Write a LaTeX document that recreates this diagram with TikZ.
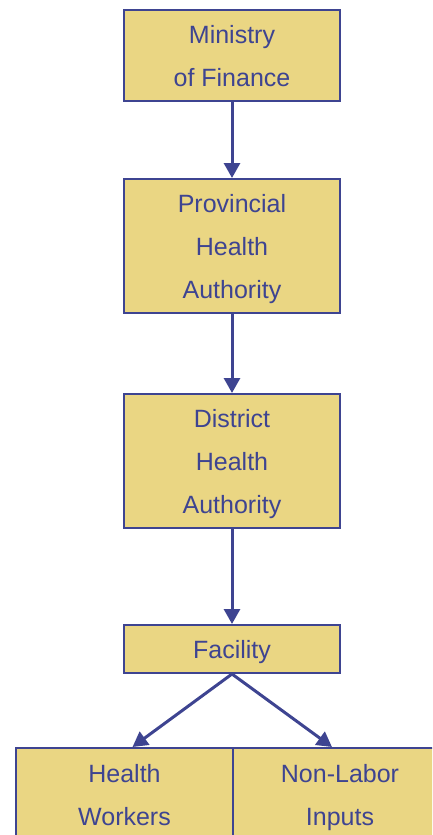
\documentclass[tikz,border=0pt]{standalone}
\usepackage{fontspec}
\setmainfont{Liberation Sans}
\usetikzlibrary{arrows.meta}
\definecolor{boxfill}{HTML}{EAD683}
\definecolor{navy}{HTML}{3E4491}
\newcommand\topS{\rule{0pt}{26pt}}
\newcommand\botS{\rule[-8pt]{0pt}{8pt}}
\begin{document}
\begin{tikzpicture}[x=1pt,y=-1pt,
  box/.style={draw=navy,fill=boxfill,line width=2pt,align=center,inner sep=0pt,
    text=navy,font=\fontsize{25}{43}\selectfont},
  conn/.style={draw=navy,line width=3pt,-{Triangle[width=16pt,length=15pt]}}]
\useasboundingbox (0,0) rectangle (432,835);
\clip (0,0) rectangle (432,835);
\node[box,minimum width=216pt,minimum height=91pt] (mof) at (232,55.5) {\topS Ministry\\of Finance\botS};
\node[box,minimum width=216pt,minimum height=134pt] (pha) at (232,246) {\topS Provincial\\Health\\Authority\botS};
\node[box,minimum width=216pt,minimum height=134pt] (dha) at (232,461) {\topS District\\Health\\Authority\botS};
\node[box,minimum width=216pt,minimum height=48pt] (fac) at (232,649) {\topS Facility\botS};
\node[box,minimum width=217pt,minimum height=94pt] (hw) at (124.5,795) {\topS Health\\Workers\botS};
\node[box,minimum width=214pt,minimum height=94pt] (nli) at (340,795) {\topS Non-Labor\\Inputs\botS};
\draw[conn] (mof.south) -- (pha.north);
\draw[conn] (pha.south) -- (dha.north);
\draw[conn] (dha.south) -- (fac.north);
\draw[conn] (fac.south) -- ([xshift=8pt]hw.north);
\draw[conn] (fac.south) -- ([xshift=-8pt]nli.north);
\end{tikzpicture}
\end{document}
